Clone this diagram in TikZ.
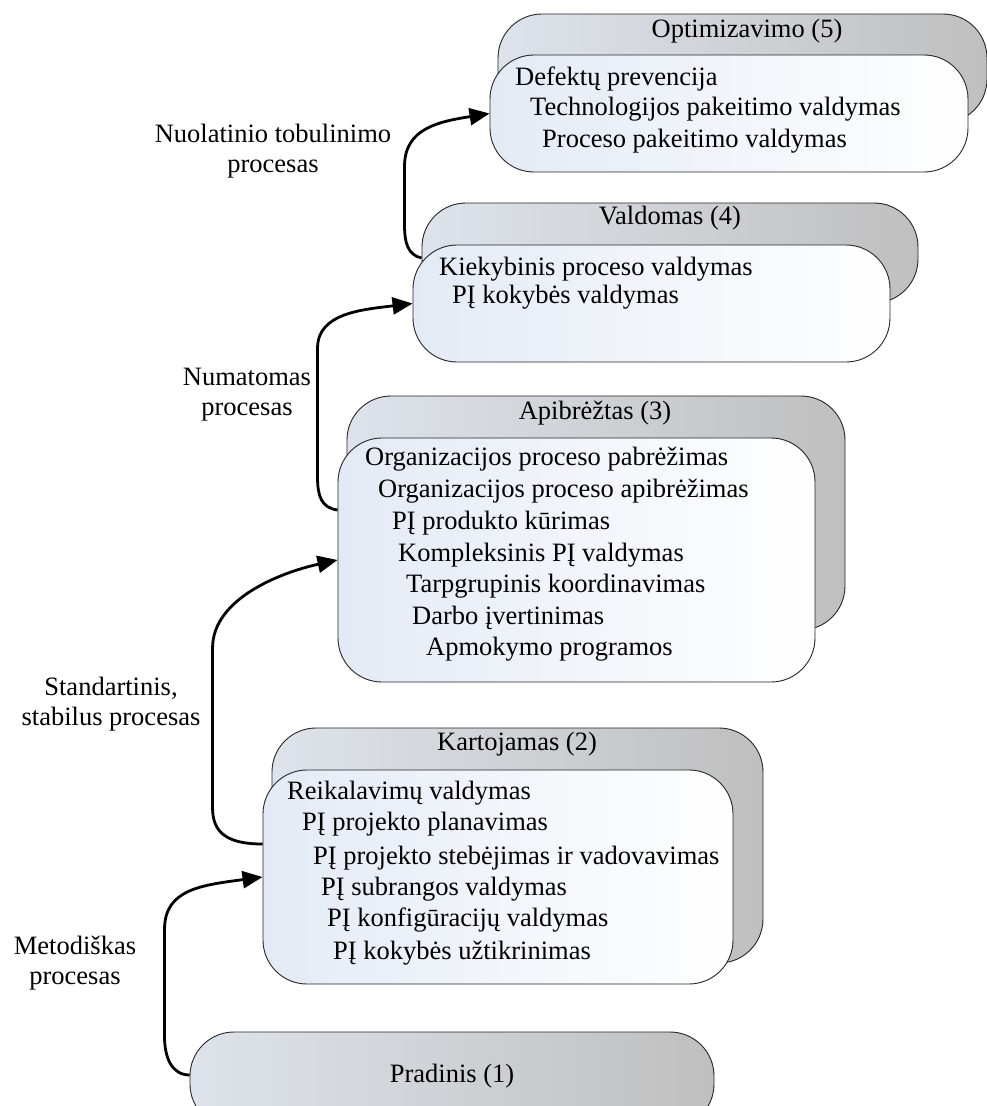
\documentclass[tikz,border=0pt]{standalone}
\usepackage{fontspec}
\setmainfont{Liberation Serif}
\usetikzlibrary{arrows.meta}
\definecolor{backL}{HTML}{DEE3EB}
\definecolor{backR}{HTML}{BFBFBF}
\definecolor{frontL}{HTML}{E4EAF5}
\begin{document}
\begin{tikzpicture}[x=1pt, y=-1pt, font=\fontsize{26.5pt}{30pt}\selectfont,
  lvl back/.style={draw=black!85, line width=0.9pt, rounded corners=44pt,
    left color=backL, right color=backR, inner sep=0},
  lvl front/.style={draw=black!85, line width=0.9pt, rounded corners=44pt,
    left color=frontL, right color=white, inner sep=0},
  item/.style={anchor=west, inner sep=0, text height=0.68em, text depth=0.22em},
  title/.style={inner sep=0, text height=0.68em, text depth=0.22em},
  flow/.style={line width=2.8pt, -{Triangle[length=20pt,width=17pt]}},
  note/.style={align=center, inner sep=0}]
  \useasboundingbox (0,0) rectangle (987,1106);

  % Pradinis (1)
  \node[lvl back, rounded corners=44pt, minimum width=524pt, minimum height=96pt,
    text height=0.68em, text depth=0.22em] (prad) at (452,1080) {Pradinis (1)};

  % Kartojamas (2)
  \node[lvl back, minimum width=491pt, minimum height=235pt] (kartB) at (517.5,845.5) {};
  \node[title] (kartT) at (517,748) {Kartojamas (2)};
  \node[lvl front, minimum width=470pt, minimum height=214pt] (kart) at (498,877) {};
  \foreach \x/\y/\t [count=\i] in {287/797/Reikalavimų valdymas,
      302/828/PĮ projekto planavimas,
      313/862/PĮ projekto stebėjimas ir vadovavimas,
      321/893/PĮ subrangos valdymas,
      327/924/PĮ konfigūracijų valdymas,
      333/957/PĮ kokybės užtikrinimas}
    \node[item] (kart-\i) at (\x,\y) {\t};

  % Apibrėžtas (3)
  \node[lvl back, minimum width=498pt, minimum height=234pt] (apibB) at (596,513) {};
  \node[title] (apibT) at (595,417) {Apibrėžtas (3)};
  \node[lvl front, minimum width=477pt, minimum height=244pt] (apib) at (576.5,560) {};
  \foreach \x/\y/\t [count=\i] in {365/463/Organizacijos proceso pabrėžimas,
      378/495/Organizacijos proceso apibrėžimas,
      392/527/PĮ produkto kūrimas,
      398/559/Kompleksinis PĮ valdymas,
      406/590/Tarpgrupinis koordinavimas,
      412/622/Darbo įvertinimas,
      426/653/Apmokymo programos}
    \node[item] (apib-\i) at (\x,\y) {\t};

  % Valdomas (4)
  \node[lvl back, minimum width=496pt, minimum height=100pt] (valdB) at (670,253) {};
  \node[title] (valdT) at (670,222) {Valdomas (4)};
  \node[lvl front, minimum width=477pt, minimum height=117pt] (vald) at (651.5,303.5) {};
  \foreach \x/\y/\t [count=\i] in {439/273/Kiekybinis proceso valdymas,
      452/301/PĮ kokybės valdymas}
    \node[item] (vald-\i) at (\x,\y) {\t};

  % Optimizavimo (5)
  \node[lvl back, minimum width=489pt, minimum height=109pt] (optB) at (742.5,68.5) {};
  \node[title] (optT) at (747,35) {Optimizavimo (5)};
  \node[lvl front, minimum width=478pt, minimum height=117pt] (opt) at (729,113.5) {};
  \foreach \x/\y/\t [count=\i] in {515/83/Defektų prevencija,
      530/113/Technologijos pakeitimo valdymas,
      542/145/Proceso pakeitimo valdymas}
    \node[item] (opt-\i) at (\x,\y) {\t};

  % transitions
  \draw[flow] ([yshift=5pt]prad.west) .. controls +(-18,0) and +(0,20) .. ++(-25,-38)
    -- ++(0,-108) .. controls +(0,-40) and +(-60,8) .. (kart.west);
  \draw[flow] ([yshift=33pt]kart.west) .. controls +(-35,0) and +(0,25) .. ++(-50,-36)
    -- ++(0,-160) .. controls +(0,-50) and +(-55,12) .. (apib.west);
  \draw[flow] ([yshift=50pt]apib.west) .. controls +(-16,-2) and +(0,18) .. ++(-20,-32)
    -- ++(0,-130) .. controls +(0,-35) and +(-50,6) .. (vald.west);
  \draw[flow] ([yshift=-5pt]valdB.west) .. controls +(-14,-3) and +(0,16) .. ++(-17,-32)
    -- ++(0,-60) .. controls +(0,-38) and +(-50,8) .. (opt.west);

  \node[note] (metod) at (75,963) {Metodiškas\\procesas};
  \node[note] (stand) at (111,704) {Standartinis,\\stabilus procesas};
  \node[note] (numat) at (247,395) {Numatomas\\procesas};
  \node[note] (nuol) at (273,151) {Nuolatinio tobulinimo\\procesas};
\end{tikzpicture}
\end{document}
